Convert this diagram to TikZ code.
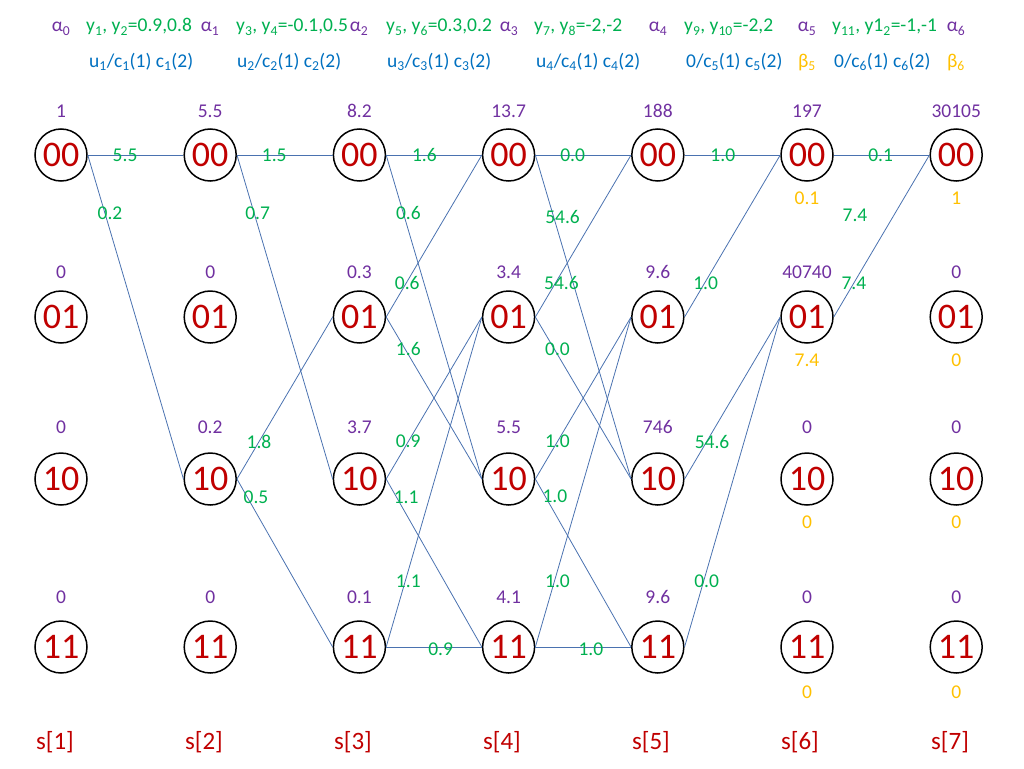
\documentclass[tikz,border=0pt]{standalone}
\usepackage{fontspec}
\setmainfont{Carlito}
\usepackage{tikz}
\usepackage{xcolor}
\usetikzlibrary{positioning}
\definecolor{alfa}{HTML}{7030A0}
\definecolor{wgt}{HTML}{00B050}
\definecolor{obsblue}{HTML}{0070C0}
\definecolor{beta}{HTML}{FFC000}
\definecolor{stred}{HTML}{C00000}
\definecolor{wire}{HTML}{4A72B0}

\begin{document}
\begin{tikzpicture}[x=1pt,y=-1pt,node distance=95.7pt,
    st/.style={circle,draw,line width=1.5pt,minimum size=52pt,inner sep=0pt,
               text=stred,font=\fontsize{36}{36}\selectfont},
    alf/.style={text=alfa,font=\fontsize{19.5}{23}\selectfont},
    bet/.style={text=beta,font=\fontsize{19.5}{23}\selectfont},
    wt/.style={text=wgt,font=\fontsize{19.5}{23}\selectfont,inner sep=0pt},
    obs/.style={text=obsblue,font=\fontsize{19.5}{23}\selectfont,inner sep=0pt},
    stage/.style={text=stred,font=\fontsize{25}{30}\selectfont},
    tr/.style={draw=wire,line width=0.8pt}]
    \useasboundingbox (0,0) rectangle (1024,768);
    % header
    \node[alf,anchor=base] (h0) at (61,32) {α\textsubscript{0}};
    \node[alf,anchor=base] (h1) at (210,32) {α\textsubscript{1}};
    \node[alf,anchor=base] (h2) at (359,32) {α\textsubscript{2}};
    \node[alf,anchor=base] (h3) at (509,32) {α\textsubscript{3}};
    \node[alf,anchor=base] (h4) at (658,32) {α\textsubscript{4}};
    \node[alf,anchor=base] (h5) at (807,32) {α\textsubscript{5}};
    \node[alf,anchor=base] (h6) at (956,32) {α\textsubscript{6}};
    \node[wt,anchor=base west] (y1) at (86,32) {y\textsubscript{1}, y\textsubscript{2}=0.9,0.8};
    \node[wt,anchor=base west] (y3) at (236,32) {y\textsubscript{3}, y\textsubscript{4}=-0.1,0.5};
    \node[wt,anchor=base west] (y5) at (386,32) {y\textsubscript{5}, y\textsubscript{6}=0.3,0.2};
    \node[wt,anchor=base west] (y7) at (534,32) {y\textsubscript{7}, y\textsubscript{8}=-2,-2};
    \node[wt,anchor=base west] (y9) at (684,32) {y\textsubscript{9}, y\textsubscript{10}=-2,2};
    \node[wt,anchor=base west] (y11) at (832,32) {y\textsubscript{11}, y1\textsubscript{2}=-1,-1};
    \node[obs,anchor=base west] (u1) at (89,67) {u\textsubscript{1}/c\textsubscript{1}(1) c\textsubscript{1}(2)};
    \node[obs,anchor=base west] (u2) at (237,67) {u\textsubscript{2}/c\textsubscript{2}(1) c\textsubscript{2}(2)};
    \node[obs,anchor=base west] (u3) at (387,67) {u\textsubscript{3}/c\textsubscript{3}(1) c\textsubscript{3}(2)};
    \node[obs,anchor=base west] (u4) at (536,67) {u\textsubscript{4}/c\textsubscript{4}(1) c\textsubscript{4}(2)};
    \node[obs,anchor=base west] (u5) at (686,67) {0/c\textsubscript{5}(1) c\textsubscript{5}(2)};
    \node[obs,anchor=base west] (u6) at (834,67) {0/c\textsubscript{6}(1) c\textsubscript{6}(2)};
    \node[bet,anchor=base] (k5) at (807,67) {β\textsubscript{5}};
    \node[bet,anchor=base] (k6) at (956,67) {β\textsubscript{6}};

    % states
    \node[st] (a00) at (61,155) {00};
    \node[st] (a01) at (61,317) {01};
    \node[st] (a10) at (61,479) {10};
    \node[st] (a11) at (61,647) {11};
    \node[st,right=of a00] (b00) {00};
    \node[st,right=of a01] (b01) {01};
    \node[st,right=of a10] (b10) {10};
    \node[st,right=of a11] (b11) {11};
    \node[st,right=of b00] (c00) {00};
    \node[st,right=of b01] (c01) {01};
    \node[st,right=of b10] (c10) {10};
    \node[st,right=of b11] (c11) {11};
    \node[st,right=of c00] (d00) {00};
    \node[st,right=of c01] (d01) {01};
    \node[st,right=of c10] (d10) {10};
    \node[st,right=of c11] (d11) {11};
    \node[st,right=of d00] (e00) {00};
    \node[st,right=of d01] (e01) {01};
    \node[st,right=of d10] (e10) {10};
    \node[st,right=of d11] (e11) {11};
    \node[st,right=of e00] (f00) {00};
    \node[st,right=of e01] (f01) {01};
    \node[st,right=of e10] (f10) {10};
    \node[st,right=of e11] (f11) {11};
    \node[st,right=of f00] (g00) {00};
    \node[st,right=of f01] (g01) {01};
    \node[st,right=of f10] (g10) {10};
    \node[st,right=of f11] (g11) {11};

    % alpha values
    \node[alf,above=7pt of a00] (pa00) {1};
    \node[alf,above=8pt of a01] (pa01) {0};
    \node[alf,above=15pt of a10] (pa10) {0};
    \node[alf,above=13pt of a11] (pa11) {0};
    \node[alf,above=7pt of b00] (pb00) {5.5};
    \node[alf,above=8pt of b01] (pb01) {0};
    \node[alf,above=15pt of b10] (pb10) {0.2};
    \node[alf,above=13pt of b11] (pb11) {0};
    \node[alf,above=7pt of c00] (pc00) {8.2};
    \node[alf,above=8pt of c01] (pc01) {0.3};
    \node[alf,above=15pt of c10] (pc10) {3.7};
    \node[alf,above=13pt of c11] (pc11) {0.1};
    \node[alf,above=7pt of d00] (pd00) {13.7};
    \node[alf,above=8pt of d01] (pd01) {3.4};
    \node[alf,above=15pt of d10] (pd10) {5.5};
    \node[alf,above=13pt of d11] (pd11) {4.1};
    \node[alf,above=7pt of e00] (pe00) {188};
    \node[alf,above=8pt of e01] (pe01) {9.6};
    \node[alf,above=15pt of e10] (pe10) {746};
    \node[alf,above=13pt of e11] (pe11) {9.6};
    \node[alf,above=7pt of f00] (pf00) {197};
    \node[alf,above=8pt of f01] (pf01) {40740};
    \node[alf,above=15pt of f10] (pf10) {0};
    \node[alf,above=13pt of f11] (pf11) {0};
    \node[alf,above=7pt of g00] (pg00) {30105};
    \node[alf,above=8pt of g01] (pg01) {0};
    \node[alf,above=15pt of g10] (pg10) {0};
    \node[alf,above=13pt of g11] (pg11) {0};

    % beta values
    \node[bet,below=7pt of f00] (qf00) {0.1};
    \node[bet,below=7pt of f01] (qf01) {7.4};
    \node[bet,below=7pt of f10] (qf10) {0};
    \node[bet,below=9pt of f11] (qf11) {0};
    \node[bet,below=7pt of g00] (qg00) {1};
    \node[bet,below=7pt of g01] (qg01) {0};
    \node[bet,below=7pt of g10] (qg10) {0};
    \node[bet,below=9pt of g11] (qg11) {0};

    % stages
    \node[stage] (s1) at (55,742) {s[1]};
    \node[stage] (s2) at (204,742) {s[2]};
    \node[stage] (s3) at (353,742) {s[3]};
    \node[stage] (s4) at (502,742) {s[4]};
    \node[stage] (s5) at (651,742) {s[5]};
    \node[stage] (s6) at (800,742) {s[6]};
    \node[stage] (s7) at (950,742) {s[7]};

    % transitions
    \draw[tr] (a00.east) -- node[wt,pos=.39] {5.5} (b00.west);
    \draw[tr] (a00.east) -- node[wt,pos=.18,xshift=5pt] {0.2} (b10.west);

    \draw[tr] (b00.east) -- node[wt,pos=.39] {1.5} (c00.west);
    \draw[tr] (b00.east) -- node[wt,pos=.18,xshift=3.5pt] {0.7} (c10.west);
    \draw[tr] (b10.east) -- node[wt,pos=.23] {1.8} (c01.west);
    \draw[tr] (b10.east) -- node[wt,pos=.11,xshift=8.5pt] {0.5} (c11.west);

    \draw[tr] (c00.east) -- node[wt,pos=.4] {1.6} (d00.west);
    \draw[tr] (c00.east) -- node[wt,pos=.18,xshift=5pt] {0.6} (d10.west);
    \draw[tr] (c01.east) -- node[wt,pos=.21,xshift=1pt] {0.6} (d00.west);
    \draw[tr] (c01.east) -- node[wt,pos=.2,xshift=3pt] {1.6} (d10.west);
    \draw[tr] (c10.east) -- node[wt,pos=.23] {0.9} (d01.west);
    \draw[tr] (c10.east) -- node[wt,pos=.11,xshift=9.5pt] {1.1} (d11.west);
    \draw[tr] (c11.east) -- node[wt,pos=.2,xshift=3pt] {1.1} (d01.west);
    \draw[tr] (c11.east) -- node[wt,pos=.57,yshift=-2pt] {0.9} (d11.west);

    \draw[tr] (d00.east) -- node[wt,pos=.39] {0.0} (e00.west);
    \draw[tr] (d00.east) -- node[wt,pos=.19,xshift=9pt] {54.6} (e10.west);
    \draw[tr] (d01.east) -- node[wt,pos=.21,xshift=6pt] {54.6} (e00.west);
    \draw[tr] (d01.east) -- node[wt,pos=.2,xshift=3pt] {0.0} (e10.west);
    \draw[tr] (d10.east) -- node[wt,pos=.23] {1.0} (e01.west);
    \draw[tr] (d10.east) -- node[wt,pos=.1,xshift=10pt] {1.0} (e11.west);
    \draw[tr] (d11.east) -- node[wt,pos=.2,xshift=3pt] {1.0} (e01.west);
    \draw[tr] (d11.east) -- node[wt,pos=.58,yshift=-2pt] {1.0} (e11.west);

    \draw[tr] (e00.east) -- node[wt,pos=.4] {1.0} (f00.west);
    \draw[tr] (e01.east) -- node[wt,pos=.21,xshift=1pt] {1.0} (f00.west);
    \draw[tr] (e10.east) -- node[wt,pos=.23,xshift=5.5pt] {54.6} (f01.west);
    \draw[tr] (e11.east) -- node[wt,pos=.2,xshift=3pt] {0.0} (f01.west);

    \draw[tr] (f00.east) -- node[wt,pos=.49] {0.1} (g00.west);
    \draw[tr] (f01.east) -- node[wt,pos=.21] {7.4} (g00.west);
    \node[wt] (w74) at (855,215) {7.4};
\end{tikzpicture}
\end{document}
